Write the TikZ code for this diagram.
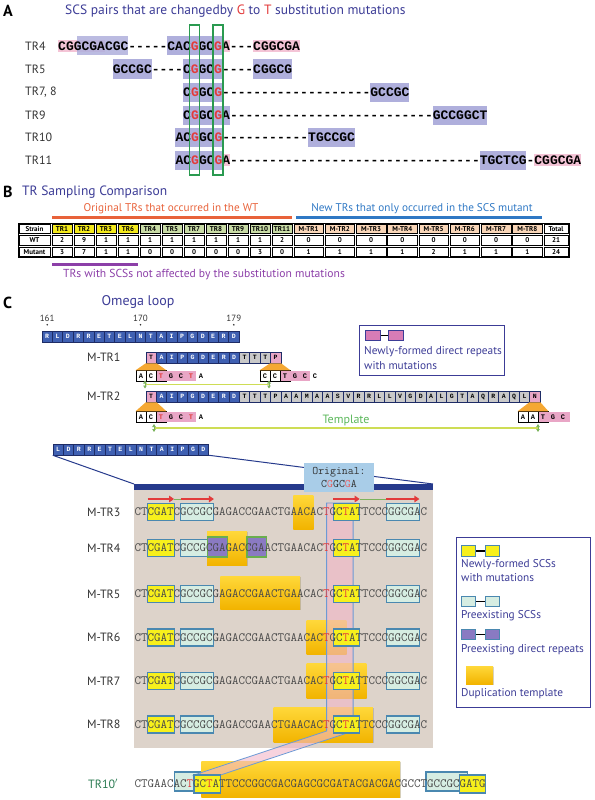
\documentclass[tikz,border=0pt]{standalone}
\usepackage{fontspec}
\setmainfont{PT Sans}
\newfontfamily\seqb{Liberation Mono}
\usetikzlibrary{calc,positioning,shadows,arrows.meta}
\definecolor{ttlc}{HTML}{3C3C96}
\definecolor{mred}{HTML}{E23B3B}
\definecolor{hlpur}{HTML}{AFAFDC}
\definecolor{hlpk}{HTML}{F4C4D6}
\definecolor{boxgn}{HTML}{2A9A50}
\definecolor{tyel}{HTML}{F4EA1C}
\definecolor{tgrn}{HTML}{C9DCA6}
\definecolor{tpch}{HTML}{F9D6B8}
\definecolor{org}{HTML}{E8623A}
\definecolor{nblu}{HTML}{2F78C4}
\definecolor{prp}{HTML}{8C3FA8}
\definecolor{resbl}{HTML}{3F60B2}
\definecolor{resbd}{HTML}{1E2C66}
\definecolor{resgy}{HTML}{C9C9C9}
\definecolor{respk}{HTML}{E9A6C6}
\definecolor{trap}{HTML}{F5A833}
\definecolor{tplln}{HTML}{CEDD55}
\definecolor{tplmk}{HTML}{7CB45C}
\definecolor{tpltx}{HTML}{5CB85C}
\definecolor{lgpk}{HTML}{D77CB6}
\definecolor{zbg}{HTML}{DDD3CA}
\definecolor{zbar}{HTML}{263A8C}
\definecolor{orig}{HTML}{A9CDE8}
\definecolor{scsy}{HTML}{F7F01C}
\definecolor{scsc}{HTML}{D6EDE2}
\definecolor{scsbd}{HTML}{4A88B0}
\definecolor{dpur}{HTML}{8A7AC2}
\definecolor{dpbd}{HTML}{6AAE4E}
\definecolor{tmpa}{HTML}{FFD83A}
\definecolor{tmpb}{HTML}{F2B400}
\definecolor{band}{HTML}{F1B6C8}
\definecolor{bandln}{HTML}{6C9AD6}
\definecolor{lbl}{HTML}{333333}
\definecolor{sq}{HTML}{4A4A4A}
\definecolor{trgn}{HTML}{2B7B52}
\def\rd#1{\textcolor{mred}{#1}}
\def\hlA[#1](#2,#3)(#4:#5:#6){\fill[#1] ({#2+#4*7.8},{#3-#6}) rectangle ({#2+#5*7.8},{#3+#6});}
\def\seqbox[#1](#2:#3)(#4:#5){\path[#1] ({134.3+#2*6.63},{#4}) rectangle ({134.3+#3*6.63},{#5});}
\def\resbar[#1](#2,#3:#4)#5#6{\foreach \rs [count=\ri from #4] in {#6} {\node[res,#1] (#5-\ri) at ({#2+(\ri+0.5)*10.37},#3) {\rs};}}
\tikzset{
  plet/.style={anchor=west, inner sep=0pt, font=\bfseries\fontsize{16}{16}\selectfont},
  ttl/.style={anchor=west, inner sep=0pt, text=ttlc, font=\fontsize{13.5}{13.5}\selectfont},
  rowlbl/.style={anchor=west, inner sep=0pt, text=lbl, font=\fontsize{12}{12}\selectfont},
  seqA/.style={anchor=west, inner sep=0pt, font=\seqb\bfseries\fontsize{13}{13}\selectfont},
  seqC/.style={anchor=west, inner sep=0pt, text=sq, font=\ttfamily\fontsize{12.63}{13}\selectfont},
  gbox/.style={draw=boxgn, line width=1.2pt},
  cell/.style={draw=black, line width=0.7pt},
  tcell/.style={inner sep=0pt, font=\bfseries\fontsize{7}{7}\selectfont},
  smtxt/.style={inner sep=0pt, font=\fontsize{11.2}{11.2}\selectfont},
  res/.style={draw=resbd, line width=0.5pt, minimum width=10.37pt, minimum height=11pt, inner sep=0pt, font=\seqb\bfseries\fontsize{6.5}{6.5}\selectfont},
  blres/.style={fill=resbl, text=white},
  gyres/.style={fill=resgy, text=black},
  pkres/.style={fill=respk, text=black},
  ntbox/.style={draw=black, line width=0.9pt, fill=white, minimum width=10pt, minimum height=10.5pt, inner sep=0pt, font=\seqb\bfseries\fontsize{7}{7}\selectfont},
  ntpk/.style={ntbox, fill=respk},
  ntfree/.style={inner sep=0pt, font=\seqb\bfseries\fontsize{7}{7}\selectfont},
  tplline/.style={draw=tplln, line width=1.4pt},
  tplmark/.style={draw=tplmk, line width=0.8pt, {Triangle[length=3pt,width=3.5pt]}-{Triangle[length=3pt,width=3.5pt]}},
  lgbox/.style={draw=ttlc, line width=1pt},
  lgsq/.style={draw=scsbd, line width=1pt, minimum width=14pt, minimum height=10.5pt, inner sep=0pt},
  lgconn/.style={draw=black, line width=1.6pt},
  lgtxt/.style={anchor=west, inner sep=0pt, text=ttlc, font=\fontsize{11.3}{11.3}\selectfont},
  zline/.style={draw=zbar, line width=1pt},
  scscy/.style={fill=scsc, draw=scsbd, line width=1.1pt},
  scsye/.style={fill=scsy, draw=scsbd, line width=1.1pt},
  dprep/.style={fill=dpur, draw=dpbd, line width=1.1pt},
  tmpl/.style={top color=tmpa, bottom color=tmpb, drop shadow={shadow xshift=0.8pt, shadow yshift=-1.2pt, opacity=0.35}},
  bandst/.style={fill=band, fill opacity=0.6, draw=bandln, line width=0.8pt},
  redarr/.style={draw=mred, line width=2.6pt, -{Triangle[length=5pt,width=6.5pt]}},
  grconn/.style={draw=tplmk, line width=0.8pt}
}
\begin{document}
\begin{tikzpicture}[x=1pt,y=-1pt]
		%%%%% START %%%%%
		\useasboundingbox (0,0) rectangle (594,800);
		
		\node[plet] (pa) at (3,11) {A};
		\node[ttl] (tta) at (65,11) {SCS pairs that are changedby \textcolor{mred}{G} to \textcolor{mred}{T} substitution mutations};
		
		\node[rowlbl] (l4) at (25,46) {TR4};
		\node[rowlbl] (l5) at (25,69) {TR5};
		\node[rowlbl] (l78) at (25,92) {TR7, 8};
		\node[rowlbl] (l9) at (25,115) {TR9};
		\node[rowlbl] (l10) at (25,137.5) {TR10};
		\node[rowlbl] (l11) at (25,160) {TR11};
		
		\hlA[hlpk](58,46)(0:6:6)
		\hlA[hlpur,fill opacity=0.85](58,46)(2.4:9:9.5)
		\hlA[hlpk](58,46)(21:22:6)
		\hlA[hlpur](58,46)(14:21:9.5)
		\hlA[hlpk](58,46)(25:31:6)
		\node[seqA] (s4) at (58,46) {CGGCGACGC-----CAC\rd{G}GC\rd{G}A---CGGCGA};
		
		\hlA[hlpur](112.6,69)(0:5:9.5)
		\hlA[hlpur](112.6,69)(9:14:9.5)
		\hlA[hlpur](112.6,69)(18:23:9.5)
		\node[seqA] (s5) at (112.6,69) {GCCGC----C\rd{G}GC\rd{G}----CGGCG};
		
		\hlA[hlpur](183,92)(0:5:9.5)
		\hlA[hlpur](183,92)(24:29:9.5)
		\node[seqA] (s78) at (183,92) {C\rd{G}GC\rd{G}-------------------GCCGC};
		
		\hlA[hlpur](183,115)(0:6:9.5)
		\hlA[hlpur](183,115)(32:39:9.5)
		\node[seqA] (s9) at (183,115) {C\rd{G}GC\rd{G}A--------------------------GCCGGCT};
		
		\hlA[hlpur](175.4,137.5)(0:6:9.5)
		\hlA[hlpur](175.4,137.5)(17:23:9.5)
		\node[seqA] (s10) at (175.4,137.5) {AC\rd{G}GC\rd{G}-----------TGCCGC};
		
		\hlA[hlpk](175.4,160)(6:7:6)
		\hlA[hlpur](175.4,160)(0:6:9.5)
		\hlA[hlpur](175.4,160)(39:45:9.5)
		\hlA[hlpk](175.4,160)(46:52:6)
		\node[seqA] (s11) at (175.4,160) {AC\rd{G}GC\rd{G}A--------------------------------TGCTCG-CGGCGA};
		
		\draw[gbox] (189.5,25) rectangle (199.5,175);
		\draw[gbox] (212.9,25) rectangle (222.9,175);
		
		\node[plet] (pb) at (3,192) {B};
		\node[ttl] (ttb) at (22,192) {TR Sampling Comparison};
		
		\draw[line width=3pt, org] (52,217.5) -- (292,217.5);
		\node[smtxt, text=org] (torg) at (171,208.5) {Original TRs that occurred in the WT};
		\draw[line width=3pt, nblu] (296,217.5) -- (542,217.5);
		\node[smtxt, text=nblu] (tnew) at (422,208.5) {New TRs that only occurred in the SCS mutant};
		
		\foreach \xa/\xb/\hd/\fc/\wt/\mt [count=\k] in {18/51/Strain/white/WT/Mutant, 51/73/TR1/tyel/2/3, 73/95/TR2/tyel/9/7, 95/117/TR3/tyel/1/1, 117/139/TR6/tyel/1/1, 139/161/TR4/tgrn/1/0, 161/183/TR5/tgrn/1/0, 183/205/TR7/tgrn/1/0, 205/227/TR8/tgrn/1/0, 227/249/TR9/tgrn/1/0, 249/271/TR10/tgrn/1/3, 271/293/TR11/tgrn/2/0, 293/324.25/M-TR1/tpch/0/1, 324.25/355.5/M-TR2/tpch/0/1, 355.5/386.75/M-TR3/tpch/0/1, 386.75/418/M-TR4/tpch/0/1, 418/449.25/M-TR5/tpch/0/2, 449.25/480.5/M-TR6/tpch/0/1, 480.5/511.75/M-TR7/tpch/0/1, 511.75/543/M-TR8/tpch/0/1, 543/569/Total/white/21/24} {
			\draw[cell, fill=\fc] ({\xa+0.9},223.9) rectangle ({\xb-0.9},233.6);
			\draw[cell] ({\xa+0.9},235.4) rectangle ({\xb-0.9},245.1);
			\draw[cell] ({\xa+0.9},246.9) rectangle ({\xb-0.9},256.6);
			\node[tcell] (hd\k) at ({(\xa+\xb)/2},228.75) {\hd};
			\node[tcell] (wt\k) at ({(\xa+\xb)/2},240.25) {\wt};
			\node[tcell] (mt\k) at ({(\xa+\xb)/2},251.75) {\mt};
		}
		\draw[line width=1pt] (18,223) rectangle (569,257.5);
		
		\draw[line width=3pt, prp] (52,264) -- (138,264);
		\node[smtxt, text=prp, anchor=west, font=\fontsize{11.6}{11.6}\selectfont] (tprp) at (63,275) {TRs with SCSs not affected by the substitution mutations};
		
		\node[plet] (pc) at (3,303) {C};
		\node[ttl, anchor=center, font=\fontsize{14}{14}\selectfont] (omg) at (138,302) {Omega loop};
		
		\resbar[blres](42,336.5:0){om}{R,L,D,R,R,E,T,E,L,N,T,A,I,P,G,D,E,R,D}
		\node[inner sep=0pt, text=lbl, font=\fontsize{9}{9}\selectfont, above=9pt of om-0] (n161) {161};
		\node[inner sep=0pt, text=lbl, font=\fontsize{9}{9}\selectfont, above=9pt of om-9] (n170) {170};
		\node[inner sep=0pt, text=lbl, font=\fontsize{9}{9}\selectfont, above=9pt of om-18] (n179) {179};
		\fill[lbl] ($(om-0.north)+(0,-6)$) circle (0.9);
		\fill[lbl] ($(om-9.north)+(0,-6)$) circle (0.9);
		\fill[lbl] ($(om-18.north)+(0,-6)$) circle (0.9);
		
		\draw[lgbox] (359,325) rectangle (504,375);
		\node[lgsq, draw=ttlc, fill=lgpk, minimum width=15pt] (lp1) at (372.5,335.5) {};
		\node[lgsq, draw=ttlc, fill=lgpk, minimum width=15pt] (lp2) at (395.5,335.5) {};
		\draw[lgconn] (lp1) -- (lp2);
		\node[lgtxt] (lpt1) at (364,352) {Newly-formed direct repeats};
		\node[lgtxt] (lpt2) at (364,366) {with mutations};
		
		\node[rowlbl] (lm1) at (87,357.5) {M-TR1};
		\resbar[pkres](146,357.5:0){m1}{T}
		\resbar[blres](146,357.5:1){m1}{A,I,P,G,D,E,R,D}
		\resbar[gyres](146,357.5:9){m1}{T,T,T}
		\resbar[pkres](146,357.5:12){m1}{P}
		
		\node[ntbox] (a1) at (141,376) {A};
		\node[ntbox] (c1) at (151,376) {C};
		\node[ntpk] (t1) at (161,376) {\rd{T}};
		\fill[respk] (166,370.75) rectangle (196,381.25);
		\node[ntfree] (g1) at (171,376) {G};
		\node[ntfree] (c1b) at (181,376) {C};
		\node[ntfree] (t1b) at (191,376) {\rd{T}};
		\node[ntfree] (a1b) at (201,376) {A};
		\node[ntbox] (c2) at (265,376) {C};
		\node[ntbox] (c2b) at (275,376) {C};
		\node[ntpk] (t2) at (285,376) {T};
		\fill[respk] (290,370.75) rectangle (310,381.25);
		\node[ntfree] (g2) at (295,376) {G};
		\node[ntfree] (c2c) at (305,376) {C};
		\node[ntfree] (c2d) at (315,376) {C};
		\fill[trap] (m1-0.south west) -- (m1-0.south east) -- (t1.north east) -- (a1.north west) -- cycle;
		\fill[trap] (m1-12.south west) -- (m1-12.south east) -- (t2.north east) -- (c2.north west) -- cycle;
		
		\coordinate (tp1a) at (145,384.5);
		\coordinate (tp1b) at (269,384.5);
		\draw[tplline] (tp1a) -- (tp1b);
		\draw[tplmark] ($(tp1a)+(0,-4)$) -- ($(tp1a)+(0,4)$);
		\draw[tplmark] ($(tp1b)+(0,-4)$) -- ($(tp1b)+(0,4)$);
		
		\node[rowlbl] (lm2) at (87,396.5) {M-TR2};
		\resbar[pkres](146,396.5:0){m2}{T}
		\resbar[blres](146,396.5:1){m2}{A,I,P,G,D,E,R,D}
		\resbar[gyres](146,396.5:9){m2}{T,T,T,P,A,A,M,A,A,S,V,R,R,L,L,V,G,D,A,L,G,T,A,Q,R,A,Q,L}
		\resbar[pkres](146,396.5:37){m2}{N}
		
		\node[ntbox] (a3) at (141,417) {A};
		\node[ntbox] (c3) at (151,417) {C};
		\node[ntpk] (t3) at (161,417) {\rd{T}};
		\fill[respk] (166,411.75) rectangle (196,422.25);
		\node[ntfree] (g3) at (171,417) {G};
		\node[ntfree] (c3b) at (181,417) {C};
		\node[ntfree] (t3b) at (191,417) {\rd{T}};
		\node[ntfree] (a3b) at (201,417) {A};
		\node[ntbox] (a4) at (523,417) {A};
		\node[ntbox] (a4b) at (533,417) {A};
		\node[ntpk] (t4) at (543,417) {T};
		\fill[respk] (548,411.75) rectangle (570,422.25);
		\node[ntfree] (g4) at (553,417) {G};
		\node[ntfree] (c4) at (563,417) {C};
		\fill[trap] (m2-0.south west) -- (m2-0.south east) -- (t3.north east) -- (a3.north west) -- cycle;
		\fill[trap] (m2-37.south west) -- (m2-37.south east) -- (t4.north east) -- (a4.north west) -- cycle;
		
		\coordinate (tp2a) at (154,428);
		\coordinate (tp2b) at (538,428);
		\draw[tplline] (tp2a) -- (tp2b);
		\draw[tplmark] ($(tp2a)+(0,-4)$) -- ($(tp2a)+(0,4)$);
		\draw[tplmark] ($(tp2b)+(0,-4)$) -- ($(tp2b)+(0,4)$);
		\node[inner sep=0pt, text=tpltx, font=\fontsize{12}{12}\selectfont] (tpl) at (346,420) {Template};
		
		\resbar[blres](53,449.5:0){lo}{L,D,R,R,E,T,E,L,N,T,A,I,P,G,D}
		\coordinate (gnw) at (134,484);
		\coordinate (gne) at (433,484);
		\draw[zline] (lo-0.south west) -- (gnw);
		\draw[zline] (lo-14.south east) -- (gne);
		\fill[zbg] (gnw) rectangle (433,748);
		\fill[zbar] (gnw) rectangle (433,490);
		\node[fill=orig, align=center, minimum width=70pt, minimum height=29pt, inner sep=1pt, text=lbl, font=\ttfamily\fontsize{11.5}{12.5}\selectfont] (orig) at (339,477.5) {Original:\\C\textcolor{mred!80}{G}GC\textcolor{mred!80}{G}A};
		
		\foreach \y in {512,548,594,637.5,681,724.5} {
			\seqbox[scscy](7:12)(\y-8.5:\y+8.5)
			\seqbox[scscy](38:43)(\y-8.5:\y+8.5)
		}
		\seqbox[scscy](6:10)(772:791)
		\seqbox[scscy](44:50.2)(772:791)
		\foreach \a/\b/\t/\u in {24/27/495/529, 11/17/531/565, 13/25/576/609, 26/32/620/654, 26/35/663/698, 21/36/707/742, 10.1/40.1/761/797} {
			\seqbox[tmpl](\a:\b)(\t:\u)
		}
		\seqbox[dprep](11:14)(537:557)
		\seqbox[dprep](17:20)(537:557)
		
		\filldraw[bandst] (326.6,503) -- (353.1,503) -- (353.1,731) -- (220.5,775) -- (194,775) -- (326.6,731) -- cycle;
		
		\foreach \y [count=\k from 3] in {512,548,594,637.5,681,724.5} {
			\seqbox[scsye](2:6)(\y-8.5:\y+8.5)
			\seqbox[scsye](30:34)(\y-8.5:\y+8.5)
			\node[rowlbl] (lm\k) at (87,\y) {M-TR\k};
			\node[seqC] (sq\k) at (134.3,\y) {CTCGATCGCCGCGAGACCGAACTGAACAC\rd{T}GC\rd{T}ATTCCCGGCGAC};
		}
		\seqbox[scsye](9:13)(775:793)
		\seqbox[scsye](49:53)(775:793)
		\node[rowlbl, text=trgn] (l10p) at (88,784) {TR10$'$};
		\node[seqC] (sq10) at (134.3,784) {CTGAACAC\rd{T}GC\rd{T}ATTCCCGGCGACGAGCGCGATACGACGACGCCTGCCGCGATG};
		
		\coordinate (ra1) at (147.6,499);
		\coordinate (ra2) at (174.1,499);
		\coordinate (ra3) at (180.7,499);
		\coordinate (ra4) at (213.9,499);
		\coordinate (rb1) at (333.2,499);
		\coordinate (rb2) at (359.7,499);
		\coordinate (rb3) at (386.2,499);
		\coordinate (rb4) at (419.4,499);
		\draw[grconn] (ra2) -- (ra3);
		\draw[grconn] (rb2) -- (rb3);
		\draw[redarr] (ra1) -- (ra2);
		\draw[redarr] (ra3) -- (ra4);
		\draw[redarr] (rb1) -- (rb2);
		\draw[redarr] (rb3) -- (rb4);
		
		\draw[lgbox] (456,537) rectangle (590,707);
		\node[lgsq, fill=scsy] (ly1) at (468.5,551) {};
		\node[lgsq, fill=scsy] (ly2) at (492.5,551) {};
		\draw[lgconn] (ly1) -- (ly2);
		\node[lgtxt] (lyt1) at (461,565) {Newly-formed SCSs};
		\node[lgtxt] (lyt2) at (461,578) {with mutations};
		\node[lgsq, fill=scsc] (lc1) at (468.5,601.5) {};
		\node[lgsq, fill=scsc] (lc2) at (492.5,601.5) {};
		\draw[lgconn] (lc1) -- (lc2);
		\node[lgtxt] (lct) at (461,616) {Preexisting SCSs};
		\node[lgsq, fill=dpur] (lu1) at (468.5,634.5) {};
		\node[lgsq, fill=dpur] (lu2) at (492.5,634.5) {};
		\draw[lgconn] (lu1) -- (lu2);
		\node[lgtxt] (lut) at (461,650) {Preexisting direct repeats};
		\node[tmpl, minimum width=27pt, minimum height=18pt, inner sep=0pt] (lt) at (479.5,675) {};
		\node[lgtxt] (ltt) at (461,694) {Duplication template};
		
		%%%%% END %%%%%
\end{tikzpicture}
\end{document}
